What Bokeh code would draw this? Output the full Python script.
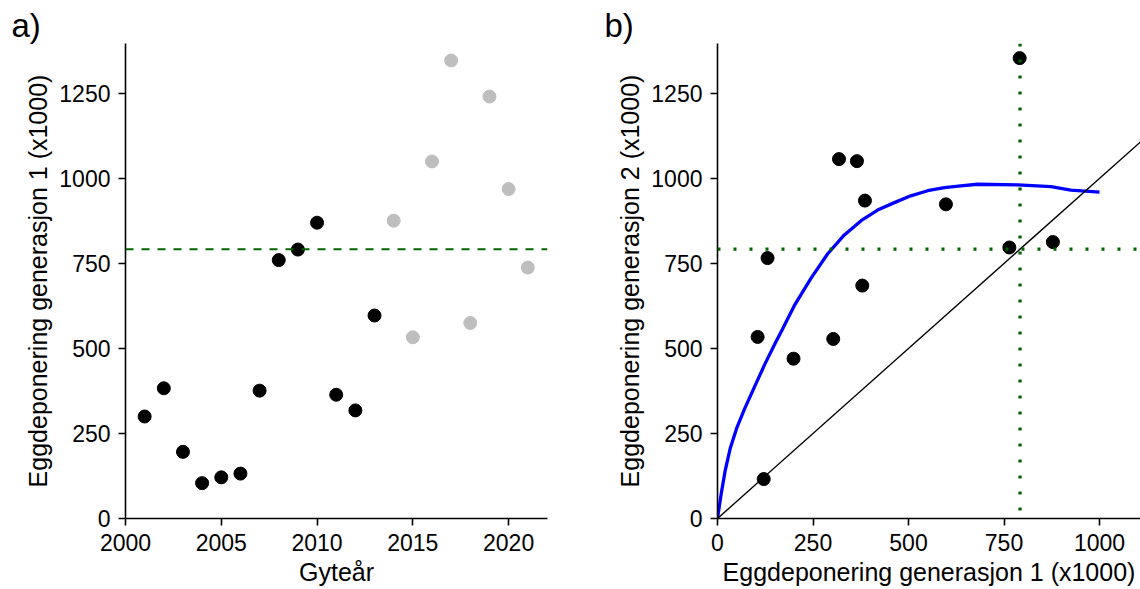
from bokeh.plotting import figure
from bokeh.layouts import row
from bokeh.models import Range1d, Span, Slope, FixedTicker
from bokeh.embed import file_html
from bokeh.resources import INLINE

# ---------------- data ----------------
years_obs = [2001, 2002, 2003, 2004, 2005, 2006, 2007, 2008, 2009, 2010, 2011, 2012, 2013]
eggs_obs = [300, 383, 196, 104, 121, 132, 376, 760, 791, 870, 364, 318, 597]
years_later = [2014, 2015, 2016, 2017, 2018, 2019, 2020, 2021]
eggs_later = [876, 533, 1050, 1347, 575, 1241, 969, 738]
reference_level = 792

gen1 = [105, 199, 303, 121, 131, 318, 365, 386, 379, 598, 764, 878, 791]
gen2 = [534, 470, 528, 116, 766, 1057, 1051, 935, 685, 924, 797, 813, 1354]

curve_x = [0, 4, 10, 20, 33, 50, 70, 98, 124, 150, 168, 201, 245, 288, 332, 376, 419,
           463, 506, 550, 594, 637, 681, 786, 873, 925, 1000]
curve_y = [0, 30, 75, 140, 205, 265, 320, 390, 454, 513, 552, 626, 707, 778, 834, 876, 907,
           929, 949, 964, 973, 978, 983, 981, 976, 966, 960]

year_ticks = [2000, 2005, 2010, 2015, 2020]
egg_ticks = [0, 250, 500, 750, 1000, 1250]
gen1_ticks = [0, 250, 500, 750, 1000]

FONT = "Liberation Sans"
H = 589
TOP = 43
BOTTOM = 71


def style(p, xticks, yticks, letter, xtitle, ytitle, letter_offset):
    p.grid.visible = False
    p.outline_line_color = None
    p.background_fill_color = "white"
    p.border_fill_color = "white"
    for ax in (p.xaxis[0], p.yaxis[0]):
        ax.axis_line_color = "black"
        ax.axis_line_width = 1.6
        ax.major_tick_line_color = "black"
        ax.major_tick_line_width = 1.6
        ax.major_tick_out = 7
        ax.major_tick_in = 0
        ax.minor_tick_line_color = None
        ax.major_label_text_font = FONT
        ax.major_label_text_font_size = "23px"
        ax.major_label_text_color = "black"
        ax.major_label_standoff = 8
        ax.axis_label_text_font = FONT
        ax.axis_label_text_font_size = "25px"
        ax.axis_label_text_font_style = "normal"
        ax.axis_label_text_color = "black"
        ax.axis_label_standoff = 4
    p.xaxis[0].ticker = FixedTicker(ticks=xticks)
    p.yaxis[0].ticker = FixedTicker(ticks=yticks)
    p.xaxis[0].major_label_standoff = 8
    p.xaxis[0].axis_label_standoff = 4
    p.xaxis[0].axis_label = xtitle
    p.yaxis[0].axis_label = ytitle
    p.title.text = letter
    p.title.align = "left"
    p.title.offset = letter_offset
    p.title.standoff = 0
    p.title.text_font = FONT
    p.title.text_font_size = "33px"
    p.title.text_font_style = "normal"
    p.title.text_color = "black"


# ---------------- panel a ----------------
WA, LA, RA = 580, 125, 33
pa = figure(width=WA, height=H, output_backend="svg", toolbar_location=None,
            x_range=Range1d(2000, 2022.03), y_range=Range1d(0, 1397),
            min_border_left=LA, min_border_right=RA, min_border_top=TOP, min_border_bottom=BOTTOM)
style(pa, year_ticks, egg_ticks, "a)", "Gyteår", "Eggdeponering generasjon 1 (x1000)", -114)
pa.add_layout(Span(location=reference_level, dimension="width", line_color="#006400",
                   line_width=2, line_dash="8 8"))
pa.scatter(years_later, eggs_later, size=13, color="#BEBEBE")
pa.scatter(years_obs, eggs_obs, size=13, color="black")

# ---------------- panel b ----------------
WB, LB, RB = 560, 137, 0
FB = WB - LB - RB
pb = figure(width=WB, height=H, output_backend="svg", toolbar_location=None,
            x_range=Range1d(0, FB / 0.382), y_range=Range1d(0, 1397),
            min_border_left=LB, min_border_right=RB, min_border_top=TOP, min_border_bottom=BOTTOM)
style(pb, gen1_ticks, egg_ticks, "b)", "Eggdeponering generasjon 1 (x1000)",
      "Eggdeponering generasjon 2 (x1000)", -113)
pb.add_layout(Slope(gradient=1, y_intercept=0, line_color="black", line_width=1.4))
pb.add_layout(Span(location=reference_level, dimension="width", line_color="#006400",
                   line_width=3.3, line_dash="3 13"))
pb.add_layout(Span(location=reference_level, dimension="height", line_color="#006400",
                   line_width=3.3, line_dash="3 13"))
pb.line(curve_x, curve_y, line_color="#0000FF", line_width=3.3)
pb.scatter(gen1, gen2, size=13, color="black")

layout = row(pa, pb)
open("out.html", "w").write(file_html(layout, INLINE))
